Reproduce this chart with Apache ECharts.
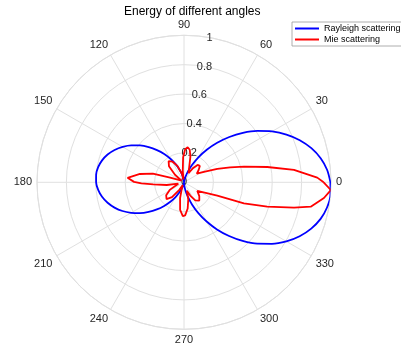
<!DOCTYPE html>
<html>
<head>
<meta charset="utf-8">
<script src="https://cdn.jsdelivr.net/npm/echarts@6/dist/echarts.min.js"></script>
<style>
html,body{margin:0;padding:0;background:#fff;}
#chart{width:401px;height:345px;}
</style>
</head>
<body>
<div id="chart"></div>
<script>
// Angle tick labels (degrees) and radius ticks
var angleTicks = [0, 30, 60, 90, 120, 150, 180, 210, 240, 270, 300, 330];
var radiusTicks = [0, 0.2, 0.4, 0.6, 0.8, 1];

// Rayleigh scattering (blue), sampled every 5 degrees
var rayleighAngles = [0,5,10,15,20,25,30,35,40,45,50,55,60,65,70,75,80,85,90,95,100,105,110,115,120,125,130,135,140,145,150,155,160,165,170,175,180,185,190,195,200,205,210,215,220,225,230,235,240,245,250,255,260,265,270,275,280,285,290,295,300,305,310,315,320,325,330,335,340,345,350,355,360];
var rayleighValues = [0.996,0.977,0.944,0.897,0.838,0.769,0.692,0.609,0.523,0.436,0.351,0.270,0.196,0.132,0.079,0.038,0.012,0.001,0.002,0.014,0.034,0.062,0.097,0.138,0.185,0.235,0.286,0.339,0.390,0.438,0.482,0.521,0.553,0.577,0.593,0.600,0.598,0.586,0.566,0.538,0.503,0.462,0.415,0.366,0.314,0.261,0.210,0.162,0.118,0.079,0.047,0.023,0.007,0.000,0.004,0.023,0.056,0.103,0.162,0.231,0.308,0.391,0.477,0.564,0.650,0.730,0.804,0.868,0.921,0.962,0.988,1.000,0.996];

// Mie scattering (red)
var mieAngles = [0,2,6.4,10.4,14.6,18,21.8,27,34,40,46,52,58,64,70,76,80,84,88,92,96,100,104,112,119,126,133,140,147,155,161,164.5,169.3,175.5,179.5,181.5,183.7,188.9,194,200,208,216,224,231,238,244,250,256,262,268,272,278,284,289,295,302,310,318,327,338.1,340.7,343.7,347,349.1,353.6,357,360];
var mieValues = [0.95,0.907,0.753,0.576,0.422,0.33,0.244,0.16,0.105,0.13,0.155,0.15,0.11,0.07,0.10,0.18,0.225,0.24,0.225,0.17,0.08,0.02,0.06,0.12,0.16,0.178,0.15,0.08,0.02,0.04,0.10,0.22,0.305,0.385,0.34,0.29,0.209,0.119,0.04,0.05,0.11,0.15,0.165,0.13,0.06,0.02,0.04,0.11,0.19,0.23,0.225,0.18,0.12,0.06,0.10,0.145,0.162,0.14,0.108,0.244,0.432,0.59,0.768,0.878,0.958,1.0,0.95];

function pairs(angles, values) {
  var out = [];
  for (var i = 0; i < angles.length; i++) out.push([values[i], angles[i]]);
  return out;
}

var font = "'Liberation Sans', Arial, Helvetica, sans-serif";
var gridColor = '#e0e0e0';
var labelColor = '#262626';
var center = [184, 182.3];
var R = 147;

var chart = echarts.init(document.getElementById('chart'), null, {renderer: 'canvas'});
chart.setOption({
  animation: false,
  backgroundColor: '#ffffff',
  title: {
    text: 'Energy of different angles',
    left: 124, top: 5, padding: 0,
    textStyle: {fontFamily: font, fontSize: 12, fontWeight: 'normal', color: '#000', lineHeight: 14}
  },
  legend: {
    left: 292, top: 22,
    orient: 'vertical',
    padding: [1, 2, 1, 3],
    itemGap: 0,
    itemWidth: 24, itemHeight: 2,
    icon: 'rect',
    borderColor: '#9a9a9a', borderWidth: 0.8,
    backgroundColor: '#fff',
    textStyle: {fontFamily: font, fontSize: 9, color: '#000', lineHeight: 11},
    data: ['Rayleigh scattering', 'Mie scattering']
  },
  polar: [
    {center: center, radius: R},
    {center: center, radius: R}
  ],
  angleAxis: [
    {
      polarIndex: 0, type: 'value', min: 0, max: 360, interval: 30,
      startAngle: 0, clockwise: false,
      axisLine: {show: true, lineStyle: {color: gridColor, width: 1}},
      axisTick: {show: false},
      splitLine: {show: true, lineStyle: {color: gridColor, width: 1}},
      axisLabel: {
        margin: 5, color: labelColor, fontFamily: font, fontSize: 11,
        formatter: function (v) { return angleTicks.indexOf(v) >= 0 ? String(v) : ''; }
      }
    },
    {
      polarIndex: 1, type: 'value', min: 0, max: 360, startAngle: 80, clockwise: false,
      show: false
    }
  ],
  radiusAxis: [
    {
      polarIndex: 0, type: 'value', min: 0, max: 1, interval: 0.2,
      axisLine: {show: false}, axisTick: {show: false}, axisLabel: {show: false},
      splitLine: {show: true, lineStyle: {color: gridColor, width: 1}}
    },
    {
      polarIndex: 1, type: 'value', min: 0, max: 1, interval: 0.2,
      axisLine: {show: false}, axisTick: {show: false}, splitLine: {show: false},
      axisLabel: {
        show: true, margin: 0, align: 'center', verticalAlign: 'middle',
        color: labelColor, fontFamily: font, fontSize: 11,
        formatter: function (v) {
          for (var i = 0; i < radiusTicks.length; i++) {
            if (Math.abs(radiusTicks[i] - v) < 1e-6) return String(radiusTicks[i]);
          }
          return '';
        }
      }
    }
  ],
  series: [
    {
      name: 'Rayleigh scattering', type: 'line', coordinateSystem: 'polar', polarIndex: 0,
      data: pairs(rayleighAngles, rayleighValues),
      showSymbol: false, symbol: 'none', smooth: 0.3,
      lineStyle: {color: '#0000ff', width: 1.8},
      itemStyle: {color: '#0000ff'}
    },
    {
      name: 'Mie scattering', type: 'line', coordinateSystem: 'polar', polarIndex: 0,
      data: pairs(mieAngles, mieValues),
      showSymbol: false, symbol: 'none',
      lineStyle: {color: '#ff0000', width: 1.8},
      itemStyle: {color: '#ff0000'}
    }
  ]
});
</script>
</body>
</html>
